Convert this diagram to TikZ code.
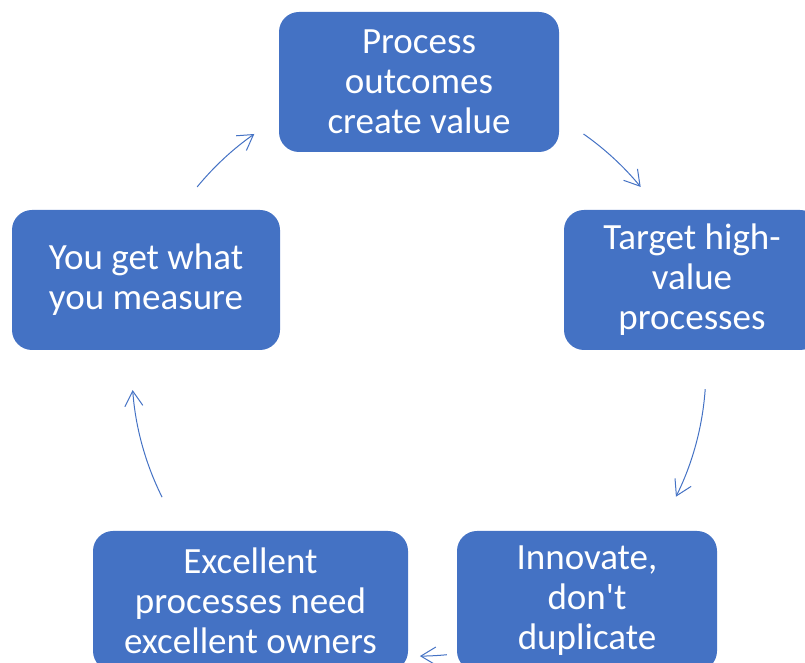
\documentclass[tikz,border=0pt]{standalone}
\usepackage{fontspec}
\setmainfont{Carlito}
\usetikzlibrary{arrows.meta}
\definecolor{boxblue}{HTML}{4472C4}

\begin{document}
\begin{tikzpicture}[x=1pt,y=1pt,
	stepbox/.style={rectangle,rounded corners=20pt,fill=boxblue,text=white,align=center,
		minimum height=140pt,inner sep=0pt,font=\fontsize{37}{40}\selectfont},
	cyc/.style={boxblue,line width=1pt,-{Straight Barb[length=15pt,width=18pt]}}]
		\useasboundingbox (0,0) rectangle (805,663);
		\node[stepbox,minimum width=280pt] (outcomes) at (419,581) {Process\\ outcomes\\ create value};
		\node[stepbox,minimum width=256pt] (target) at (692,383) {Target high-\\ value\\ processes};
		\node[stepbox,minimum width=260pt] (innovate) at (587,62) {Innovate,\\ don\textquotesingle t\\ duplicate};
		\node[stepbox,minimum width=315pt] (owners) at (250.5,62) {Excellent\\ processes need\\ excellent owners};
		\node[stepbox,minimum width=268pt] (measure) at (146,383) {You get what\\ you measure};
		\coordinate (c) at (418.9,293.9);
		\foreach \a/\b in {55/39.4,-4/-26.4,-84.4/-89.8,206.5/184.2,140.6/125}
			\draw[cyc] (c) ++(\a:287) arc[start angle=\a,end angle=\b,radius=287];
\end{tikzpicture}
\end{document}
